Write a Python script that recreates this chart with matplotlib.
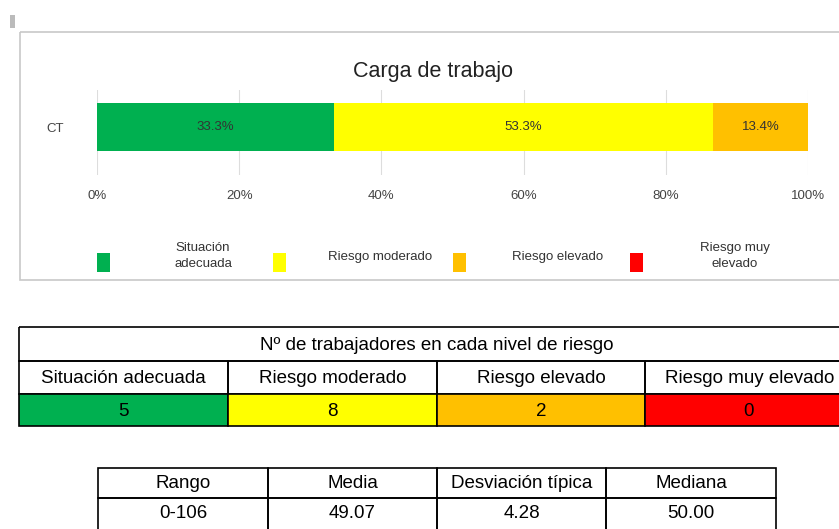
import matplotlib.pyplot as plt
from matplotlib.patches import Rectangle
import numpy as np

plt.rcParams['font.family'] = ['Liberation Sans', 'DejaVu Sans']

# data
niveles = ['Situación adecuada', 'Riesgo moderado', 'Riesgo elevado', 'Riesgo muy elevado']
legend_labels = ['Situación\nadecuada', 'Riesgo moderado', 'Riesgo elevado', 'Riesgo muy\nelevado']
colores = ['#00B050', '#FFFF00', '#FFC000', '#FF0000']
porcentajes = [33.3, 53.3, 13.4, 0.0]
trabajadores = [5, 8, 2, 0]
stats_names = ['Rango', 'Media', 'Desviación típica', 'Mediana']
stats_values = ['0-106', '49.07', '4.28', '50.00']

W, H = 839, 529
fig = plt.figure(figsize=(W / 100, H / 100), dpi=100)

# background axes in pixel coords
bg = fig.add_axes([0, 0, 1, 1])
bg.set_xlim(0, W)
bg.set_ylim(H, 0)
bg.axis('off')

# little grey mark and chart box
bg.add_patch(Rectangle((10, 15), 5, 13, color='#bbbbbb', lw=0))
bg.add_patch(Rectangle((20, 32), 840, 248, fill=False, ec='#c8c8c8', lw=1.2))
bg.text(433, 71, 'Carga de trabajo', ha='center', va='center', fontsize=15.5, color='#222222')

# bar chart
ax = fig.add_axes([97 / W, 1 - 175 / H, 711 / W, 85 / H])
left = 0
for p, c in zip(porcentajes, colores):
    ax.barh(0, p, left=left, height=48, color=c, zorder=2)
    if p > 0:
        ax.text(left + p / 2, 0, f'{p:.1f}%', ha='center', va='center', fontsize=9.5, color='#333333', zorder=3)
    left += p
ax.set_xlim(0, 100)
ax.set_ylim(-48, 37)
ax.set_xticks(np.arange(0, 101, 20))
ax.set_xticklabels([f'{v}%' for v in range(0, 101, 20)], fontsize=9.5, color='#444444')
ax.set_yticks([0])
ax.set_yticklabels(['CT'], fontsize=9.5, color='#444444')
ax.tick_params(axis='x', length=0, pad=11)
ax.tick_params(axis='y', length=0, pad=24)
ax.grid(axis='x', color='#dddddd', lw=0.8, zorder=0)
for s in ax.spines.values():
    s.set_visible(False)

# legend
leg_sq = [97, 273, 453, 630]
leg_tx = [203, 380, 558, 735]
for sx, tx, lab, c in zip(leg_sq, leg_tx, legend_labels, colores):
    bg.add_patch(Rectangle((sx, 253), 13, 19, color=c, lw=0))
    bg.text(tx, 256 if '\n' in lab else 257, lab, ha='center', va='center', fontsize=9.5,
            color='#333333', linespacing=1.35)

# table 1
cols = [19, 228, 437, 645, 854]
rows = [327, 361, 394, 426]
lw = 1.2
fs = 13.5
bg.add_patch(Rectangle((cols[0], rows[0]), cols[-1] - cols[0], rows[1] - rows[0], fill=False, ec='black', lw=lw))
bg.text(437, (rows[0] + rows[1]) / 2 + 1, 'Nº de trabajadores en cada nivel de riesgo',
        ha='center', va='center', fontsize=fs)
for i, (nombre, n, c) in enumerate(zip(niveles, trabajadores, colores)):
    x0, x1 = cols[i], cols[i + 1]
    bg.add_patch(Rectangle((x0, rows[1]), x1 - x0, rows[2] - rows[1], fill=False, ec='black', lw=lw))
    bg.add_patch(Rectangle((x0, rows[2]), x1 - x0, rows[3] - rows[2], fc=c, ec='black', lw=lw))
    bg.text((x0 + x1) / 2 if i < 3 else 750, (rows[1] + rows[2]) / 2 + 1, nombre,
            ha='center', va='center', fontsize=fs)
    bg.text((x0 + x1) / 2 if i < 3 else 749, (rows[2] + rows[3]) / 2 + 1, str(n),
            ha='center', va='center', fontsize=fs)

# table 2
cols2 = [98, 268, 437, 606, 776]
rows2 = [468, 498, 530]
for i, (nombre, val) in enumerate(zip(stats_names, stats_values)):
    x0, x1 = cols2[i], cols2[i + 1]
    for j, t in enumerate([nombre, val]):
        bg.add_patch(Rectangle((x0, rows2[j]), x1 - x0, rows2[j + 1] - rows2[j], fill=False, ec='black', lw=lw))
        bg.text((x0 + x1) / 2, rows2[j] + 16, t, ha='center', va='center', fontsize=fs)

fig.savefig('out.png', dpi=100)
